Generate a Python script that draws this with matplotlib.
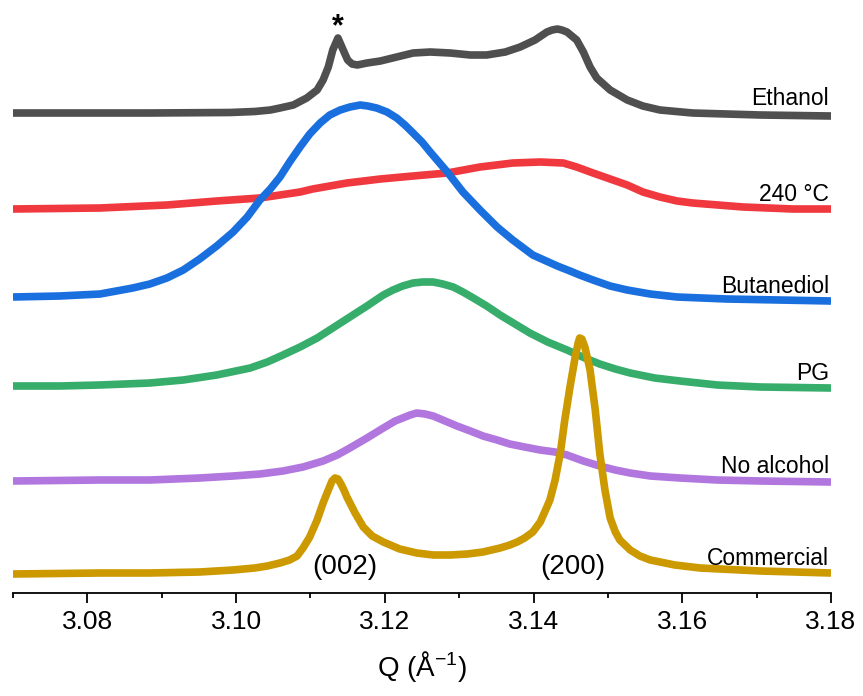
import numpy as np
import matplotlib
matplotlib.use("Agg")
import matplotlib.pyplot as plt
from matplotlib.ticker import MultipleLocator

plt.rcParams['font.family'] = ['Liberation Sans', 'DejaVu Sans']
plt.rcParams['mathtext.fontset'] = 'custom'
plt.rcParams['mathtext.rm'] = 'Liberation Sans'
plt.rcParams['mathtext.it'] = 'Liberation Sans'

# stacked XRD profiles (offset intensity, a.u.)
q_ethanol = [3.0700, 3.0884, 3.0992, 3.1025, 3.1046, 3.1059, 3.1077, 3.1095, 3.1109, 3.1117,
             3.1124, 3.1130, 3.1137, 3.1144, 3.1150, 3.1156, 3.1163, 3.1176, 3.1194, 3.1216,
             3.1238, 3.1261, 3.1288, 3.1315, 3.1337, 3.1362, 3.1382, 3.1402, 3.1418, 3.1425,
             3.1432, 3.1438, 3.1445, 3.1458, 3.1467, 3.1476, 3.1485, 3.1503, 3.1526, 3.1547,
             3.1570, 3.1614, 3.1705, 3.1800]
i_ethanol = [4.80, 4.80, 4.805, 4.815, 4.83, 4.85, 4.88, 4.95, 5.03, 5.13,
             5.26, 5.43, 5.55, 5.43, 5.33, 5.29, 5.28, 5.30, 5.32, 5.36,
             5.40, 5.41, 5.40, 5.38, 5.38, 5.41, 5.46, 5.53, 5.61, 5.63,
             5.64, 5.63, 5.61, 5.53, 5.41, 5.26, 5.15, 5.03, 4.93, 4.87,
             4.83, 4.80, 4.78, 4.77]

q_240 = [3.0700, 3.0817, 3.0907, 3.0974, 3.1032, 3.1059, 3.1086, 3.1103, 3.1149, 3.1194,
         3.1238, 3.1284, 3.1328, 3.1372, 3.1409, 3.1440, 3.1458, 3.1480, 3.1503, 3.1526,
         3.1547, 3.1570, 3.1593, 3.1614, 3.1682, 3.1749, 3.1800]
i_240 = [3.84, 3.85, 3.88, 3.92, 3.95, 3.98, 4.01, 4.04, 4.10, 4.14,
         4.17, 4.20, 4.26, 4.30, 4.31, 4.30, 4.26, 4.20, 4.14, 4.08,
         4.01, 3.96, 3.92, 3.90, 3.86, 3.84, 3.84]

q_butanediol = [3.0700, 3.0763, 3.0817, 3.0861, 3.0884, 3.0907, 3.0929, 3.0951, 3.0974, 3.0996,
                3.1015, 3.1032, 3.1046, 3.1059, 3.1072, 3.1086, 3.1099, 3.1113, 3.1126, 3.1140,
                3.1153, 3.1167, 3.1177, 3.1189, 3.1203, 3.1216, 3.1227, 3.1238, 3.1250, 3.1261,
                3.1284, 3.1305, 3.1328, 3.1351, 3.1372, 3.1399, 3.1432, 3.1449, 3.1462, 3.1480,
                3.1503, 3.1526, 3.1557, 3.1593, 3.1660, 3.1800]
i_butanediol = [2.96, 2.97, 2.99, 3.05, 3.09, 3.15, 3.23, 3.34, 3.47, 3.61,
                3.76, 3.93, 4.04, 4.16, 4.31, 4.46, 4.59, 4.70, 4.78, 4.83,
                4.86, 4.88, 4.87, 4.85, 4.81, 4.75, 4.68, 4.60, 4.51, 4.41,
                4.21, 4.01, 3.83, 3.66, 3.53, 3.38, 3.27, 3.22, 3.18, 3.13,
                3.07, 3.03, 2.99, 2.96, 2.94, 2.92]

q_pg = [3.0700, 3.0763, 3.0817, 3.0884, 3.0929, 3.0974, 3.1019, 3.1042, 3.1063, 3.1086,
        3.1109, 3.1130, 3.1153, 3.1176, 3.1198, 3.1211, 3.1224, 3.1238, 3.1251, 3.1265,
        3.1278, 3.1292, 3.1305, 3.1319, 3.1337, 3.1355, 3.1375, 3.1395, 3.1419, 3.1445,
        3.1469, 3.1489, 3.1510, 3.1530, 3.1563, 3.1597, 3.1647, 3.1705, 3.1800]
i_pg = [2.07, 2.07, 2.08, 2.10, 2.13, 2.18, 2.25, 2.31, 2.38, 2.46,
        2.55, 2.65, 2.76, 2.87, 2.98, 3.03, 3.07, 3.10, 3.11, 3.11,
        3.09, 3.06, 3.01, 2.95, 2.87, 2.78, 2.69, 2.60, 2.51, 2.43,
        2.35, 2.29, 2.24, 2.20, 2.15, 2.12, 2.08, 2.06, 2.05]

q_noalc = [3.0700, 3.0817, 3.0884, 3.0951, 3.0996, 3.1032, 3.1063, 3.1090, 3.1117, 3.1136,
           3.1153, 3.1176, 3.1198, 3.1214, 3.1224, 3.1234, 3.1243, 3.1254, 3.1265, 3.1281,
           3.1297, 3.1315, 3.1332, 3.1351, 3.1368, 3.1388, 3.1409, 3.1429, 3.1445, 3.1467,
           3.1489, 3.1510, 3.1530, 3.1557, 3.1597, 3.1647, 3.1705, 3.1800]
i_noalc = [1.12, 1.13, 1.13, 1.15, 1.17, 1.19, 1.22, 1.26, 1.32, 1.38,
           1.45, 1.55, 1.65, 1.72, 1.75, 1.78, 1.80, 1.79, 1.77, 1.72,
           1.67, 1.62, 1.57, 1.53, 1.49, 1.46, 1.43, 1.41, 1.38, 1.32,
           1.27, 1.23, 1.20, 1.17, 1.15, 1.13, 1.12, 1.11]

q_comm = [3.0700, 3.0817, 3.0884, 3.0951, 3.0996, 3.1025, 3.1042, 3.1059, 3.1072, 3.1082,
          3.1090, 3.1099, 3.1109, 3.1117, 3.1124, 3.1129, 3.1133, 3.1137, 3.1141, 3.1145,
          3.1149, 3.1160, 3.1171, 3.1183, 3.1198, 3.1220, 3.1243, 3.1265, 3.1288, 3.1311,
          3.1332, 3.1355, 3.1368, 3.1378, 3.1388, 3.1399, 3.1409, 3.1415, 3.1422, 3.1429,
          3.1436, 3.1442, 3.1449, 3.1456, 3.1460, 3.1462, 3.1465, 3.1469, 3.1476, 3.1483,
          3.1489, 3.1496, 3.1503, 3.1510, 3.1516, 3.1530, 3.1543, 3.1557, 3.1590, 3.1624,
          3.1705, 3.1800]
i_comm = [0.19, 0.20, 0.20, 0.21, 0.23, 0.25, 0.27, 0.30, 0.33, 0.37,
          0.45, 0.56, 0.73, 0.90, 1.03, 1.12, 1.15, 1.14, 1.09, 1.03,
          0.96, 0.80, 0.66, 0.57, 0.51, 0.44, 0.40, 0.38, 0.38, 0.39,
          0.41, 0.45, 0.48, 0.51, 0.55, 0.61, 0.71, 0.81, 0.93, 1.13,
          1.40, 1.73, 2.06, 2.36, 2.50, 2.55, 2.54, 2.46, 2.23, 1.83,
          1.40, 1.03, 0.75, 0.61, 0.53, 0.43, 0.37, 0.33, 0.28, 0.25,
          0.22, 0.20]

names = ['Ethanol', '240 °C', 'Butanediol', 'PG', 'No alcohol', 'Commercial']
label_y = [4.88, 3.92, 3.00, 2.13, 1.20, 0.28]
colors = ['#4f4f4f', '#f0393f', '#1a6fdf', '#37ad6b', '#b177de', '#cc9900']
curves = [(q_ethanol, i_ethanol), (q_240, i_240), (q_butanediol, i_butanediol),
          (q_pg, i_pg), (q_noalc, i_noalc), (q_comm, i_comm)]

fig = plt.figure(figsize=(8.63, 6.96), dpi=100)
ax = fig.add_axes([13/863, 103/696, 818/863, 593/696])

for (q, inten), c in zip(curves, colors):
    ax.plot(q, inten, color=c, lw=5.5, solid_joinstyle='round', solid_capstyle='butt')

for name, y in zip(names, label_y):
    ax.text(3.1797, y, name, ha='right', va='baseline', fontsize=16.5)

ax.text(3.1146, 0.26, '(002)', ha='center', va='center', fontsize=20)
ax.text(3.1453, 0.26, '(200)', ha='center', va='center', fontsize=20)
ax.text(3.1137, 5.66, '*', ha='center', va='center', fontsize=22, fontweight='bold')

ax.set_xlim(3.07, 3.18)
ax.set_ylim(0, 5.93)
ax.xaxis.set_minor_locator(MultipleLocator(0.01))
ax.set_xticks(np.arange(3.08, 3.181, 0.02))
ax.set_xticklabels(['3.08', '3.10', '3.12', '3.14', '3.16', '3.18'])
ax.tick_params(axis='x', which='major', length=7.2, width=1.3, labelsize=19, pad=5)
ax.tick_params(axis='x', which='minor', length=3.5, width=1.3)
ax.set_yticks([])
for s in ['top', 'left', 'right']:
    ax.spines[s].set_visible(False)
ax.spines['bottom'].set_linewidth(1.3)
ax.set_xlabel('Q (Å$^{-1}$)', fontsize=20, labelpad=11)

fig.savefig('out.png', dpi=100)
